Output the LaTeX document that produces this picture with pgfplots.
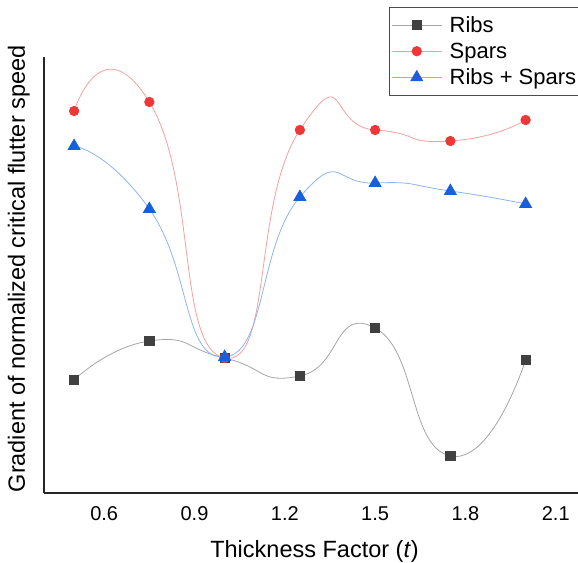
\documentclass[border=0pt]{standalone}
\usepackage{pgfplots}
\pgfplotsset{compat=1.18}
\usepackage{fontspec}
\setmainfont{Liberation Sans}
\definecolor{ribsmark}{RGB}{64,64,64}
\definecolor{ribsline}{RGB}{165,165,165}
\definecolor{sparsmark}{RGB}{240,55,55}
\definecolor{sparsline}{RGB}{245,160,160}
\definecolor{bothmark}{RGB}{25,95,220}
\definecolor{bothline}{RGB}{140,180,240}
\begin{document}
\begin{tikzpicture}
\useasboundingbox (-44bp,-70bp) rectangle (534bp,493bp);
\begin{axis}[
  scale only axis, width=534bp, height=436bp,
  xmin=0.4, xmax=2.174, ymin=0, ymax=436,
  axis lines*=left,
  axis line style={-, line width=1.3bp, black!85},
  xtick={0.6,0.9,1.2,1.5,1.8,2.1}, ytick=\empty,
  major tick length=0pt,
  /pgf/number format/assume math mode=true,
  xticklabel={\pgfmathprintnumber[fixed,precision=1,fixed zerofill]{\tick}},
  xticklabel style={font=\fontsize{20bp}{24bp}\selectfont, anchor=base, yshift=-27bp},
  xlabel={Thickness Factor (\textit{t})},
  ylabel={Gradient of normalized critical flutter speed},
  xlabel style={font=\fontsize{23.5bp}{28bp}\selectfont, at={(axis description cs:0.5066,-0.1468)}, anchor=base},
  ylabel style={font=\fontsize{23.5bp}{28bp}\selectfont, at={(axis description cs:-0.0356,0.514)}, anchor=base, rotate=0},
  legend style={at={(axis description cs:0.646,1.1147)}, anchor=north west,
    draw=black!70, line width=0.8bp, fill=white,
    font=\fontsize{22bp}{26bp}\selectfont, inner xsep=2bp, inner ysep=7bp, row sep=5bp, column sep=5.5bp,
    nodes={inner sep=2bp}},
  legend cell align=left,
  legend image code/.code={\draw[mark repeat=2,mark phase=2] plot coordinates {(0bp,0bp)(25bp,0bp)(50bp,0bp)};},
  every axis plot/.append style={smooth, tension=1, line width=0.8bp},
]
\addplot[color=ribsline, mark=square*, mark size=4.6bp, mark options={fill=ribsmark, draw=ribsmark}]
  coordinates {(0.5,113) (0.75,152) (1.0,135) (1.25,117) (1.5,165) (1.75,37) (2.0,133)};
\addlegendentry{Ribs}
\addplot[color=sparsline, tension=1.15, mark=*, mark size=4.7bp, mark options={fill=sparsmark, draw=sparsmark}]
  coordinates {(0.5,382) (0.75,391) (1.0,135) (1.25,363) (1.5,363) (1.75,352) (2.0,373)};
\addlegendentry{Spars}
\addplot[color=bothline, mark=triangle*, mark size=6.8bp, mark options={fill=bothmark, draw=bothmark}]
  coordinates {(0.5,347) (0.75,284) (1.0,136) (1.25,296) (1.5,310) (1.75,302) (2.0,289)};
\addlegendentry{Ribs + Spars}
\end{axis}
\end{tikzpicture}
\end{document}
